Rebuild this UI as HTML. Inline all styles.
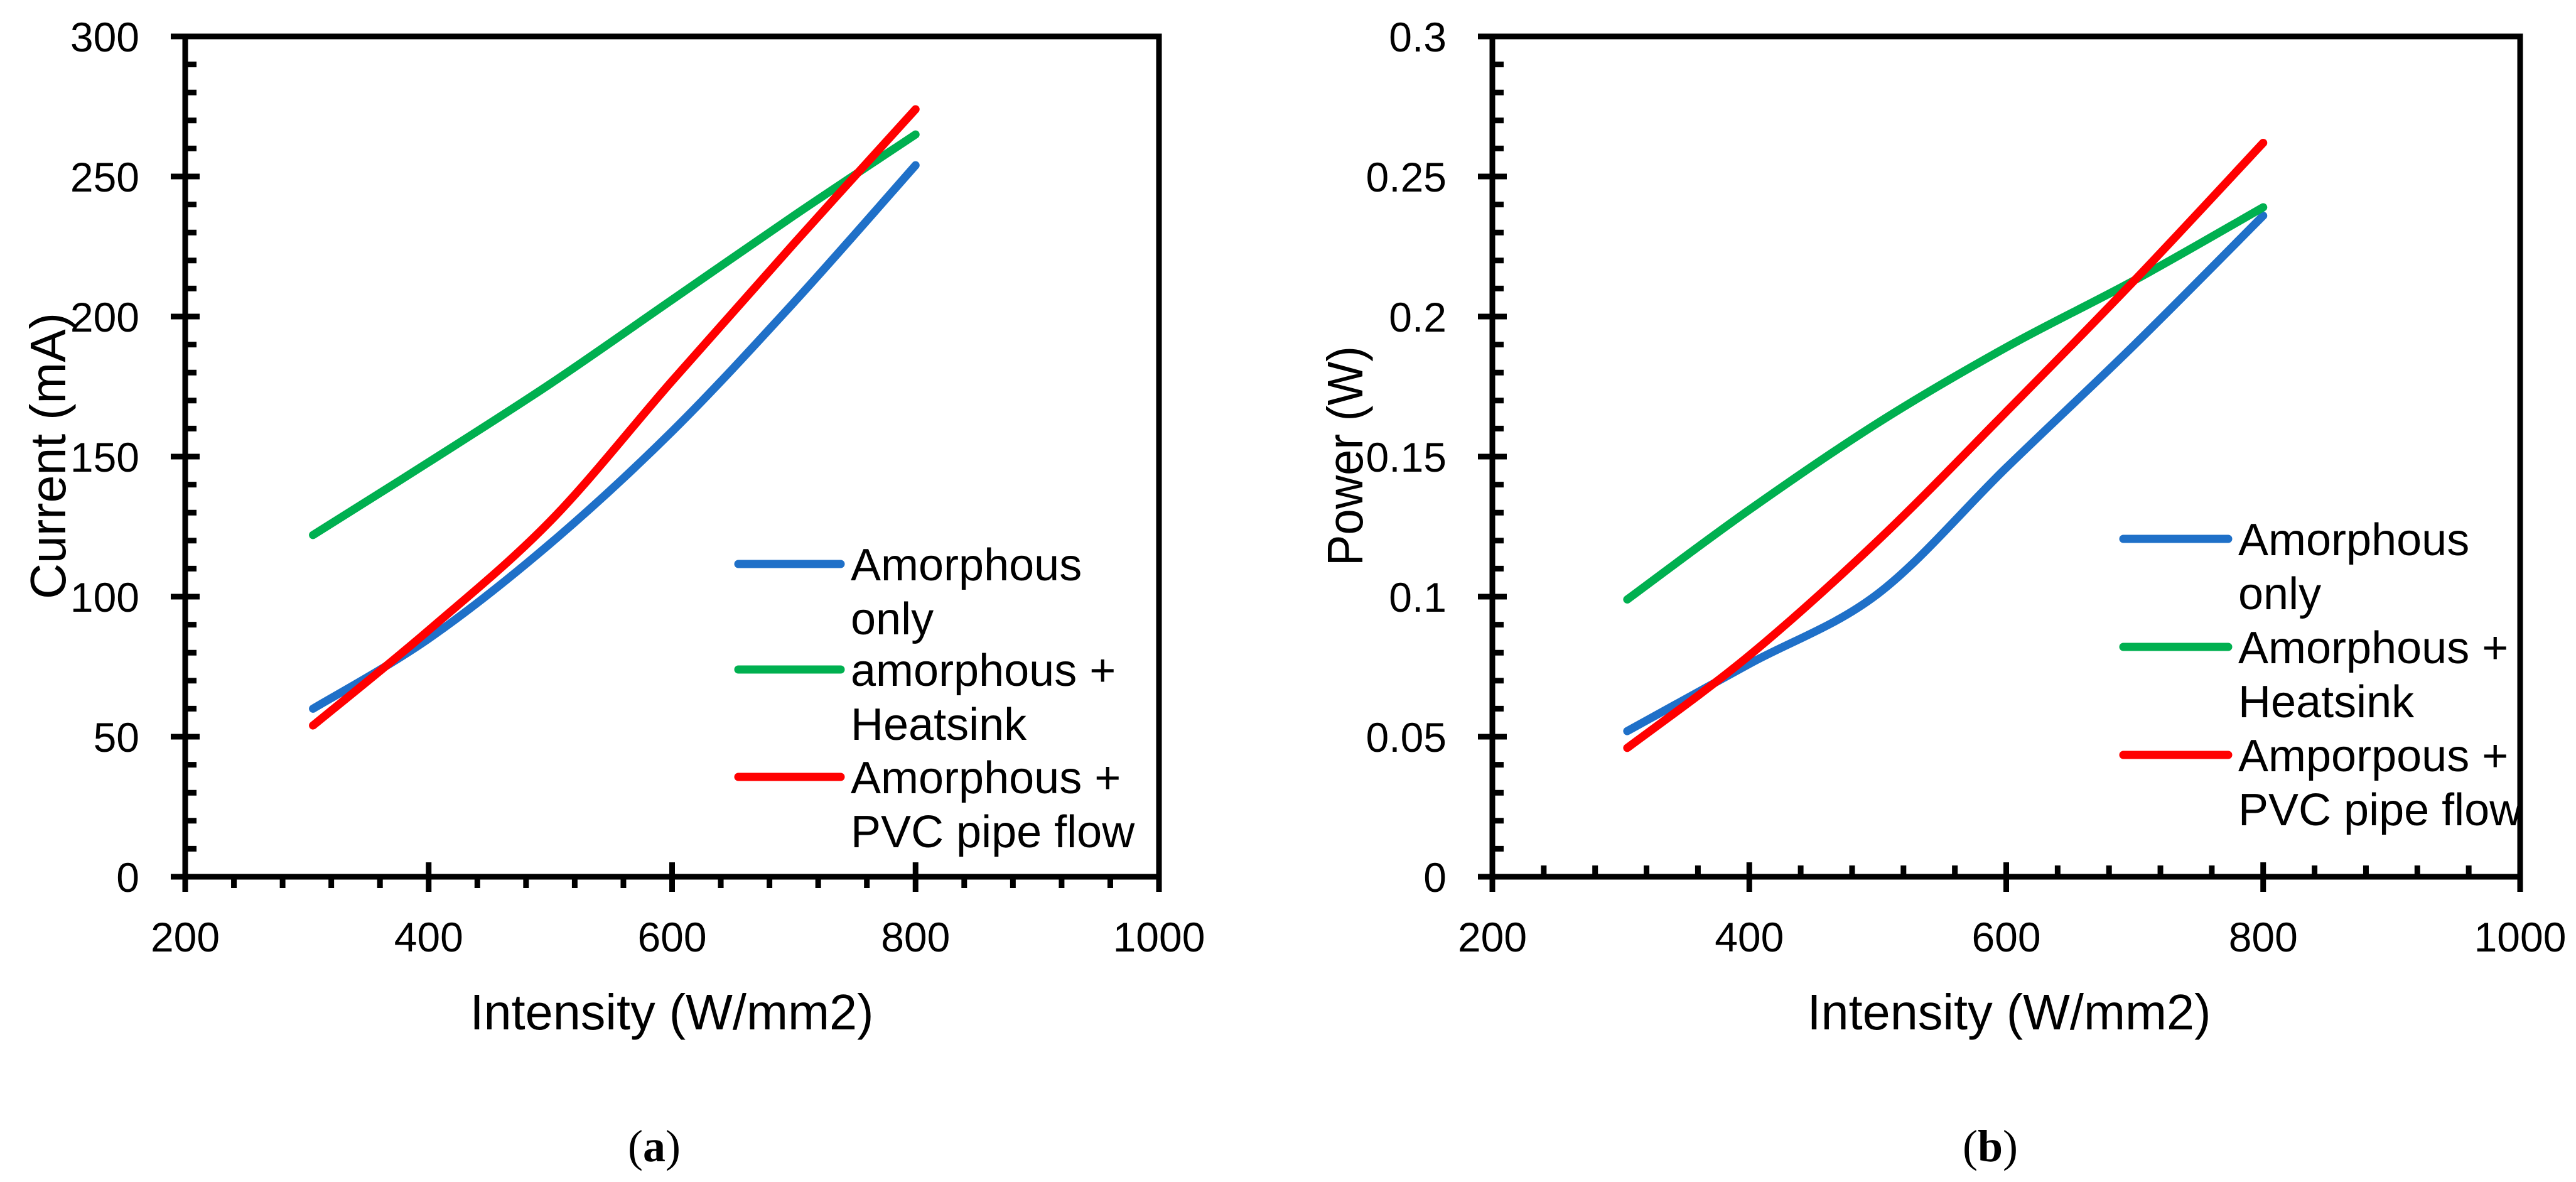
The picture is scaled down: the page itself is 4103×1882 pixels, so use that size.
<!DOCTYPE html>
<html><head><meta charset="utf-8"><style>
html,body{margin:0;padding:0;background:#fff;}
svg{display:block;font-family:"Liberation Sans",sans-serif;}
</style></head><body>
<svg id="fig" width="4103" height="1882" viewBox="0 0 4103 1882" xmlns="http://www.w3.org/2000/svg">
<rect width="4103" height="1882" fill="#fff"/>
<g id="chartA"></g>
<g id="chartB"></g>
<text x="1042" y="1849" font-family="Liberation Serif,serif" font-size="72" text-anchor="middle">(<tspan font-weight="bold">a</tspan>)</text>
<text x="3170" y="1849" font-family="Liberation Serif,serif" font-size="72" text-anchor="middle">(<tspan font-weight="bold">b</tspan>)</text>
</svg>
<script>
const xCats = [305, 400, 500, 600, 700, 800];
const curBlue  = [60, 85, 119, 159, 205, 254];
const curGreen = [122, 148, 176, 206, 236, 265];
const curRed   = [54, 88, 127, 177, 226, 274];
const powBlue  = [0.052, 0.076, 0.101, 0.146, 0.190, 0.236];
const powGreen = [0.099, 0.131, 0.162, 0.189, 0.213, 0.239];
const powRed   = [0.046, 0.079, 0.120, 0.166, 0.213, 0.262];
const xTicks = [200, 400, 600, 800, 1000];
const yTicksA = [0, 50, 100, 150, 200, 250, 300];
const yTickLabelsA = ["0","50","100","150","200","250","300"];
const yTicksB = [0, 0.05, 0.1, 0.15, 0.2, 0.25, 0.3];
const yTickLabelsB = ["0","0.05","0.1","0.15","0.2","0.25","0.3"];
const legendA = ["Amorphous|only", "amorphous +|Heatsink", "Amorphous +|PVC pipe flow"];
const legendB = ["Amorphous|only", "Amorphous +|Heatsink", "Amporpous +|PVC pipe flow"];
const colors = ["#1f70c8", "#00b050", "#ff0000"];

const NS = "http://www.w3.org/2000/svg";
function mk(parent, tag, attrs, text) {
  const e = document.createElementNS(NS, tag);
  for (const k in attrs) e.setAttribute(k, attrs[k]);
  if (text !== undefined) e.textContent = text;
  parent.appendChild(e);
  return e;
}
function smoothPath(pts) {
  let d = "M" + pts[0][0] + "," + pts[0][1];
  for (let i = 0; i < pts.length - 1; i++) {
    const p0 = pts[i - 1] || pts[i], p1 = pts[i], p2 = pts[i + 1], p3 = pts[i + 2] || p2;
    const c1 = [p1[0] + (p2[0] - p0[0]) / 6, p1[1] + (p2[1] - p0[1]) / 6];
    const c2 = [p2[0] - (p3[0] - p1[0]) / 6, p2[1] - (p3[1] - p1[1]) / 6];
    d += " C" + c1.join(",") + " " + c2.join(",") + " " + p2.join(",");
  }
  return d;
}
function draw(g, cfg) {
  const sx = v => cfg.x0 + (v - 200) / 800 * (cfg.x1 - cfg.x0);
  const sy = v => cfg.y1 - v / cfg.ymax * (cfg.y1 - cfg.y0);
  cfg.series.forEach((s, i) => {
    const pts = xCats.map((x, j) => [sx(x), sy(s[j])]);
    const p = mk(g, "path", {d: smoothPath(pts), fill: "none", stroke: colors[i], "stroke-width": 13, "stroke-linecap": "round"});
    
    
  });
  const fr = mk(g, "rect", {x: cfg.x0, y: cfg.y0, width: cfg.x1 - cfg.x0, height: cfg.y1 - cfg.y0, fill: "none", stroke: "#000", "stroke-width": 9});
  
  
  const nMinorY = (cfg.yTicks.length - 1) * 5;
  for (let k = 0; k <= nMinorY; k++) {
    const y = cfg.y1 - k / nMinorY * (cfg.y1 - cfg.y0);
    const major = k % 5 === 0;
    mk(g, "line", {x1: major ? cfg.x0 - 23 : cfg.x0, x2: cfg.x0 + (major ? 23 : 18), y1: y, y2: y, stroke: "#000", "stroke-width": 9});
  }
  cfg.yTicks.forEach((v, i) => {
    const t = mk(g, "text", {x: cfg.x0 - 73, y: sy(v) + 24, "font-size": 66, "text-anchor": "end"}, cfg.yLabels[i]);
    
    
  });
  for (let v = 200; v <= 1000; v += 40) {
    const x = sx(v);
    const major = (v - 200) % 200 === 0;
    if (major) mk(g, "line", {x1: x, x2: x, y1: cfg.y1 - 23, y2: cfg.y1 + 24, stroke: "#000", "stroke-width": 9});
    else mk(g, "line", {x1: x, x2: x, y1: cfg.y1, y2: cfg.y1 + (cfg.minorUp ? -18 : 18), stroke: "#000", "stroke-width": 9});
  }
  xTicks.forEach(v => {
    const t = mk(g, "text", {x: sx(v), y: 1515, "font-size": 66, "text-anchor": "middle"}, String(v));
    
    
  });
  const xt = mk(g, "text", {x: cfg.xtX, y: 1639, "font-size": 80, "text-anchor": "middle", textLength: 643, lengthAdjust: "spacingAndGlyphs"}, "Intensity (W/mm2)");
  
  
  const yt = mk(g, "text", {x: 0, y: 0, "font-size": 80, "text-anchor": "middle", textLength: cfg.ytLen, lengthAdjust: "spacingAndGlyphs", transform: "translate(" + cfg.ytX + "," + cfg.ytY + ") rotate(-90)"}, cfg.ytitle);
  
  
  cfg.legend.forEach((lab, i) => {
    const ly = cfg.legY[i];
    const lg = mk(g, "g", {});
    
    
    mk(lg, "line", {x1: cfg.legX0, x2: cfg.legX1, y1: ly, y2: ly, stroke: colors[i], "stroke-width": 13, "stroke-linecap": "round"});
    const parts = lab.split("|");
    mk(lg, "text", {x: cfg.legTX, y: ly + 26, "font-size": 72}, parts[0]);
    mk(lg, "text", {x: cfg.legTX, y: ly + 112, "font-size": 72}, parts[1]);
  });
}
draw(document.getElementById("chartA"), {
  x0: 295, x1: 1846, y0: 58, y1: 1396, ymax: 300,
  yTicks: yTicksA, yLabels: yTickLabelsA, minorUp: false,
  series: [curBlue, curGreen, curRed], names: ["amorphous-only-line", "amorphous-heatsink-line", "amorphous-pvc-line"],
  xtX: 1070, ytitle: "Current  (mA)", ytX: 104, ytY: 726, ytLen: 456,
  legend: legendA, legY: [898, 1066, 1237], legX0: 1176, legX1: 1339, legTX: 1355
});
draw(document.getElementById("chartB"), {
  x0: 2377, x1: 4014, y0: 58, y1: 1396, ymax: 0.3,
  yTicks: yTicksB, yLabels: yTickLabelsB, minorUp: true,
  series: [powBlue, powGreen, powRed], names: ["amorphous-only-line", "amorphous-heatsink-line", "amorphous-pvc-line"],
  xtX: 3200, ytitle: "Power (W)", ytX: 2170, ytY: 726, ytLen: 350,
  legend: legendB, legY: [858, 1030, 1202], legX0: 3382, legX1: 3549, legTX: 3565
});
</script>
</body></html>
